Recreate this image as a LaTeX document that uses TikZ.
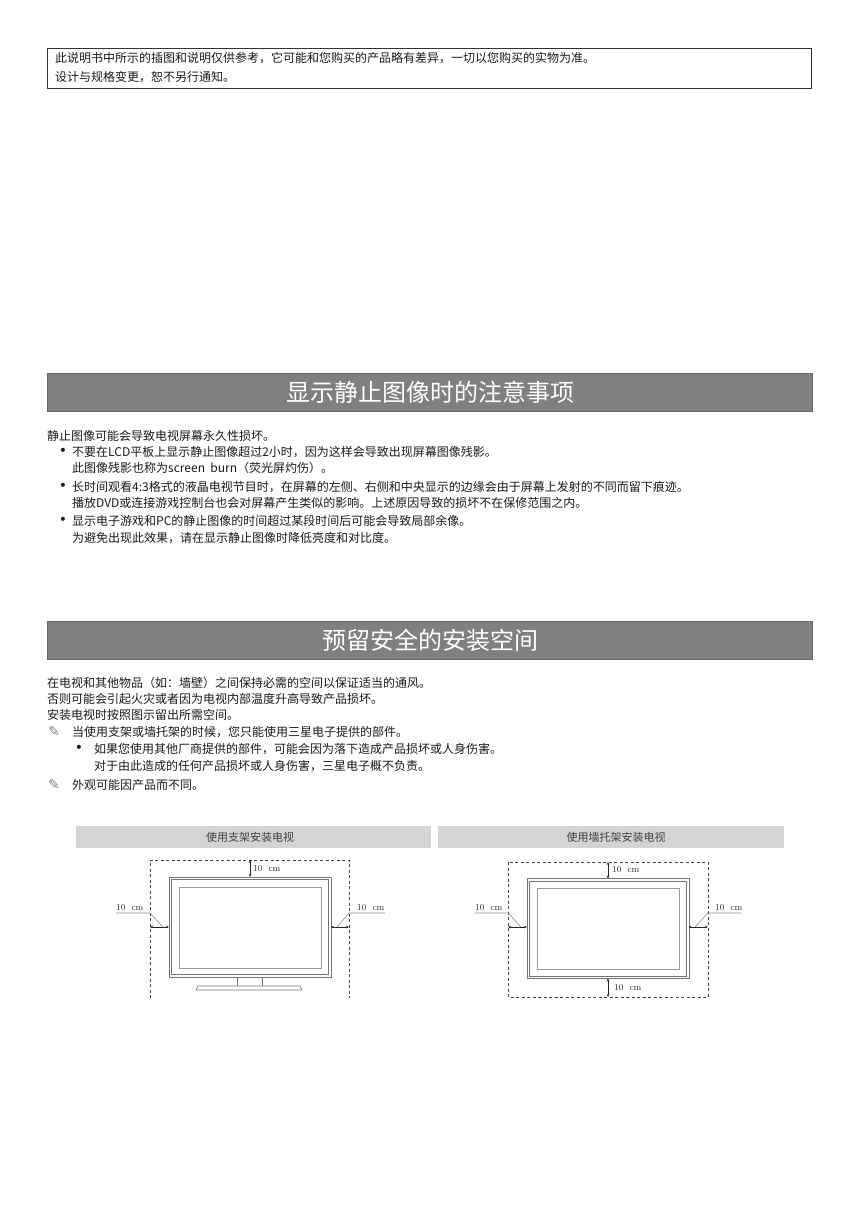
\documentclass[tikz,border=0pt]{standalone}
\usepackage{fontspec}
\usepackage{xcolor}
\newfontfamily\cjk{Noto Sans CJK SC}
\newfontfamily\sym{DejaVu Sans}
\usetikzlibrary{positioning,arrows.meta}
\definecolor{barGray}{HTML}{808080}
\definecolor{tabGray}{HTML}{D4D4D4}
\definecolor{leadGray}{HTML}{8C8C8C}

\begin{document}
\begin{tikzpicture}[
    x=1pt, y=-1pt,
    every node/.style={inner sep=0pt, text=black!90, font=\cjk\fontsize{12}{14}\selectfont},
    txt/.style={anchor=west},
    dot/.style={font=\sym\fontsize{14}{14}\selectfont},
    pen/.style={text=black!50, font=\sym\fontsize{14}{14}\selectfont},
    bar/.style={fill=barGray, draw=barGray!80!black},
    bartitle/.style={text=white, font=\cjk\fontsize{24}{28}\selectfont},
    tab/.style={fill=tabGray},
    tabtitle/.style={text=black!75, font=\cjk\fontsize{11}{12}\selectfont},
    cmlabel/.style={anchor=south west, text=black!85, font=\rmfamily\fontsize{9}{10}\selectfont},
    gapline/.style={draw=black!75, line width=0.8pt, dash pattern=on 3pt off 2.5pt},
    tvline/.style={draw=black!55, line width=0.6pt},
    gaparrow/.style={{Stealth[length=3pt,width=2.6pt]}-{Stealth[length=3pt,width=2.6pt]}, line width=0.5pt, black!85},
    leader/.style={draw=leadGray, line width=0.6pt}
]
\useasboundingbox (0,0) rectangle (859,1218);

\draw[black!80, line width=0.7pt] (47,48) rectangle (811,88);
\node[txt] (note1) at (55,58) {此说明书中所示的插图和说明仅供参考，它可能和您购买的产品略有差异，一切以您购买的实物为准。};
\node[txt] (note2) at (55,77) {设计与规格变更，恕不另行通知。};

% still images
\draw[bar] (47,373) rectangle (812,411);
\node[bartitle] (title1) at (430,392) {显示静止图像时的注意事项};
\node[txt] (still0) at (47,436) {静止图像可能会导致电视屏幕永久性损坏。};
\node[dot] (b1) at (63,452) {•};
\node[txt] (still1a) at (72,452) {不要在LCD平板上显示静止图像超过2小时，因为这样会导致出现屏幕图像残影。};
\node[txt] (still1b) at (72,468) {此图像残影也称为screen\ \ burn（荧光屏灼伤）。};
\node[dot] (b2) at (63,487) {•};
\node[txt] (still2a) at (72,487) {长时间观看4:3格式的液晶电视节目时，在屏幕的左侧、右侧和中央显示的边缘会由于屏幕上发射的不同而留下痕迹。};
\node[txt] (still2b) at (72,503) {播放DVD或连接游戏控制台也会对屏幕产生类似的影响。上述原因导致的损坏不在保修范围之内。};
\node[dot] (b3) at (63,521) {•};
\node[txt] (still3a) at (72,521) {显示电子游戏和PC的静止图像的时间超过某段时间后可能会导致局部余像。};
\node[txt] (still3b) at (72,538) {为避免出现此效果，请在显示静止图像时降低亮度和对比度。};

% installation space
\draw[bar] (47,621) rectangle (812,659);
\node[bartitle] (title2) at (430,640) {预留安全的安装空间};
\node[txt] (space1) at (47,683) {在电视和其他物品（如：墙壁）之间保持必需的空间以保证适当的通风。};
\node[txt] (space2) at (47,699) {否则可能会引起火灾或者因为电视内部温度升高导致产品损坏。};
\node[txt] (space3) at (47,715) {安装电视时按照图示留出所需空间。};
\node[pen] (p1) at (54,732) {✎};
\node[txt] (space4) at (72,732) {当使用支架或墙托架的时候，您只能使用三星电子提供的部件。};
\node[dot] (b4) at (79,749) {•};
\node[txt] (space5a) at (94,749) {如果您使用其他厂商提供的部件，可能会因为落下造成产品损坏或人身伤害。};
\node[txt] (space5b) at (94,766) {对于由此造成的任何产品损坏或人身伤害，三星电子概不负责。};
\node[pen] (p2) at (54,785) {✎};
\node[txt] (space6) at (72,785) {外观可能因产品而不同。};

\fill[tab] (76,826) rectangle (431,848);
\node[tabtitle] (standTab) at (250,837) {使用支架安装电视};
\fill[tab] (438,826) rectangle (784,848);
\node[tabtitle] (wallTab) at (616,837) {使用墙托架安装电视};

% tv sets
\foreach \dx/\dy in {0/0, 358/1.5} {
    \draw[tvline] (169+\dx,877+\dy) rectangle (331+\dx,977+\dy);
    \draw[tvline] (171.5+\dx,879.5+\dy) rectangle (328.5+\dx,974.5+\dy);
    \draw[tvline, draw=black!40] (179+\dx,887+\dy) rectangle (321+\dx,968+\dy);
}
\draw[tvline] (237,977) -- (237,986) (262,977) -- (262,986);
\draw[tvline] (198,986) -- (300,986) -- (302,990) -- (196,990) -- cycle;

% stand
\draw[gapline] (150,998) -- (150,860) -- (349,860) -- (349,998);
\draw[gaparrow] (250,860) -- (250,877);
\node[cmlabel, anchor=west] (standTop) at (253,869) {10\ \ cm};
\node[cmlabel] (standLeft) at (116,911) {10\ \ cm};
\draw[leader] (116,913) -- (150,913) -- (163,927);
\draw[gaparrow] (150,927) -- (169,927);
\node[cmlabel] (standRight) at (357,911) {10\ \ cm};
\draw[leader] (385,913) -- (349,913) -- (337,927);
\draw[gaparrow] (331,927) -- (349,927);

% wall mount
\draw[gapline] (508,862) rectangle (708,997);
\draw[gaparrow] (608,862) -- (608,878.5);
\node[cmlabel, anchor=west] (wallTop) at (612,870) {10\ \ cm};
\draw[gaparrow] (608,978.5) -- (608,997);
\node[cmlabel, anchor=west] (wallBottom) at (614,988) {10\ \ cm};
\node[cmlabel] (wallLeft) at (475,911) {10\ \ cm};
\draw[leader] (475,913) -- (508,913) -- (521,927);
\draw[gaparrow] (508,927) -- (527,927);
\node[cmlabel] (wallRight) at (715,911) {10\ \ cm};
\draw[leader] (741,913) -- (708,913) -- (695,927);
\draw[gaparrow] (688.5,927) -- (708,927);
\end{tikzpicture}
\end{document}
